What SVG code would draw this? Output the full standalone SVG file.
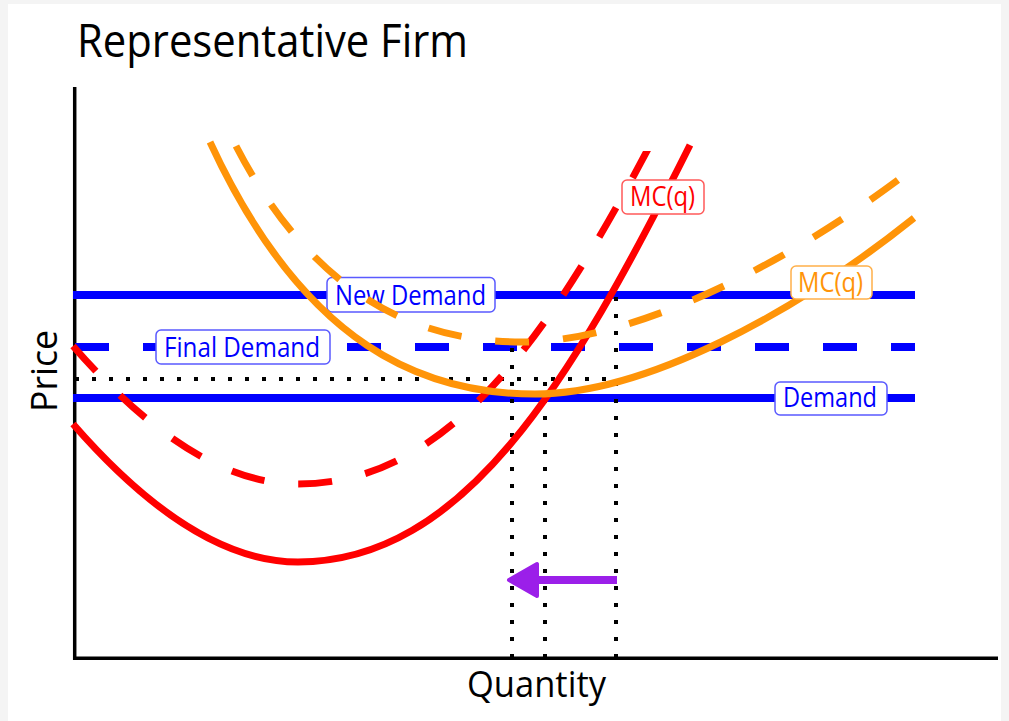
<svg xmlns="http://www.w3.org/2000/svg" width="1009" height="721" viewBox="0 0 1009 721">
  <style>
    text { font-family: "Open Sans", "Noto Sans", "Liberation Sans", sans-serif; }
    .axis { stroke: #000; stroke-width: 3.5; fill: none; }
    .blue { stroke: #0000ff; stroke-width: 8; fill: none; }
    .dot { stroke: #000; stroke-width: 4; stroke-dasharray: 4 13; fill: none; }
    .red { stroke: #ff0000; stroke-width: 7; fill: none; }
    .orange { stroke: #ff9408; stroke-width: 7; fill: none; }
    .dash { stroke-dasharray: 34 34; }
    .lbl { fill: #fff; stroke-width: 1.5; }
    .lt { font-size: 27px; }
  </style>
  <defs>
    <clipPath id="clipRed"><rect x="60" y="151" width="900" height="600"/></clipPath>
  </defs>
  <rect x="0" y="0" width="1009" height="721" fill="#f4f4f4"/>
  <rect x="8" y="4" width="993" height="717" fill="#ffffff"/>

  <g id="title"><text x="77" y="57" font-size="45" textLength="391" lengthAdjust="spacingAndGlyphs">Representative Firm</text></g>

  <g id="axes">
    <path class="axis" d="M74.7,87 V660"/>
    <path class="axis" d="M73,658.3 H998"/>
    <text x="536.5" y="697" font-size="37" text-anchor="middle" textLength="139" lengthAdjust="spacingAndGlyphs">Quantity</text>
    <text transform="translate(57,371) rotate(-90)" x="0" y="0" font-size="37" text-anchor="middle" textLength="82" lengthAdjust="spacingAndGlyphs">Price</text>
  </g>

  <g id="demand-lines">
    <path id="new-demand-line" class="blue" d="M73,295 H915"/>
    <path id="final-demand-line" class="blue" d="M75,347 H915" stroke-dasharray="34 34"/>
    <path id="demand-line" class="blue" d="M73,398 H915"/>
  </g>

  <g id="new-demand">
    <rect class="lbl" x="327" y="277.5" width="168" height="34.5" rx="5" stroke="#5a5aff"/>
    <text class="lt" x="335" y="305" fill="#0000ff" textLength="151" lengthAdjust="spacingAndGlyphs">New Demand</text>
  </g>
  <g id="final-demand">
    <rect class="lbl" x="156" y="330" width="174" height="34" rx="5" stroke="#5a5aff"/>
    <text class="lt" x="164" y="356.5" fill="#0000ff" textLength="156" lengthAdjust="spacingAndGlyphs">Final Demand</text>
  </g>
  <g id="demand">
    <rect class="lbl" x="775" y="382" width="112" height="33" rx="5" stroke="#5a5aff"/>
    <text class="lt" x="783" y="407" fill="#0000ff" textLength="94" lengthAdjust="spacingAndGlyphs">Demand</text>
  </g>

  <g id="guides">
    <path class="dot" d="M75,379 H616"/>
    <path class="dot" d="M512,658 V347"/>
    <path class="dot" d="M545,658 V379"/>
    <path class="dot" d="M616,658 V295"/>
  </g>

  <g id="connectors">
    <path id="mc-red" class="red" d="M73,424 C148,510 223,562 298,562 C463,562 570,385 690,145"/>
    <g clip-path="url(#clipRed)">
      <path id="mc-red-dashed" class="red dash" transform="translate(0,-78)" d="M73,424 C148,510 223,562 298,562 C463,562 570,385 690,145"/>
    </g>
    <path id="ac-orange" class="orange" d="M210,142 C305,348 425,394 535,394 C645,394 794,314 914,218"/>
    <path id="ac-orange-dashed" class="orange dash" d="M236,146 C316,300.4 422,342 522,342 C632,342 782,267 902,177"/>
  </g>

  <g id="mc-red-label">
    <rect class="lbl" x="622" y="180" width="82" height="34" rx="5" stroke="#ff5a5a"/>
    <text class="lt" x="630" y="206" fill="#ff0000" textLength="65" lengthAdjust="spacingAndGlyphs">MC(q)</text>
  </g>
  <g id="mc-orange-label">
    <rect class="lbl" x="791" y="266" width="81" height="33" rx="5" stroke="#ffb04a"/>
    <text class="lt" x="798" y="292" fill="#ff9408" textLength="65" lengthAdjust="spacingAndGlyphs">MC(q)</text>
  </g>

  <g id="shift-arrow">
    <path d="M617,580 H534" stroke="#9b1fe9" stroke-width="8" fill="none"/>
    <polygon points="509,580 537,564 537,596" fill="#9b1fe9" stroke="#9b1fe9" stroke-width="4" stroke-linejoin="round"/>
  </g>
</svg>
